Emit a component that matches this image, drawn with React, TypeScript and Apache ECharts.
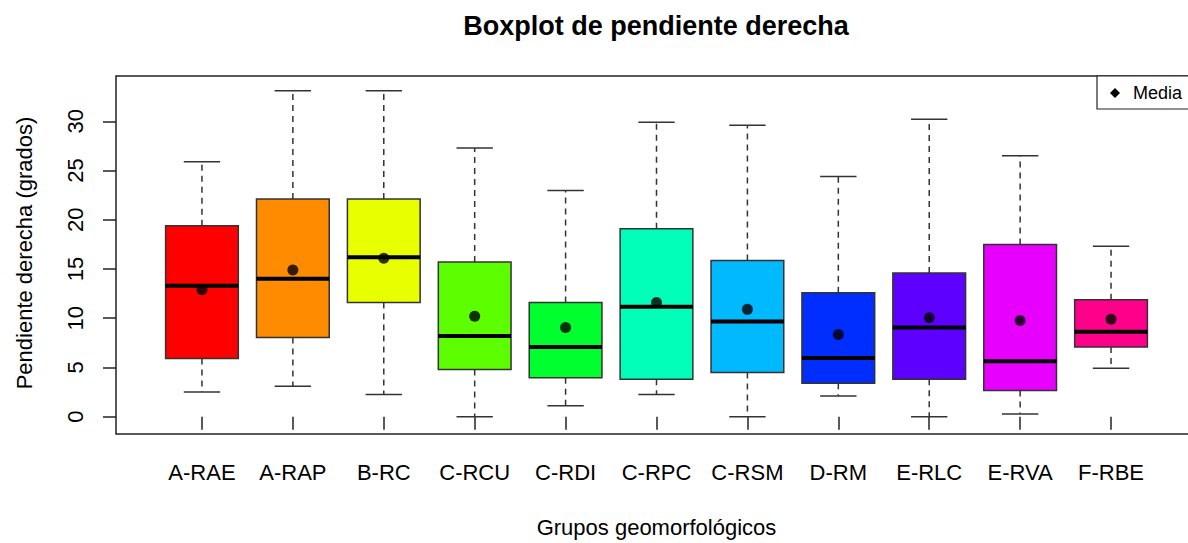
import React, { useEffect, useRef } from "react";
import * as echarts from "echarts";

const categories = ["A-RAE", "A-RAP", "B-RC", "C-RCU", "C-RDI", "C-RPC", "C-RSM", "D-RM", "E-RLC", "E-RVA", "F-RBE"];
const lowerWhisker = [2.5, 3.1, 2.25, 0.0, 1.1, 2.25, 0.0, 2.1, 0.0, 0.27, 4.93];
const q1 = [5.9, 8.05, 11.6, 4.8, 3.96, 3.8, 4.5, 3.4, 3.8, 2.65, 7.07];
const medians = [13.3, 14.0, 16.2, 8.2, 7.07, 11.17, 9.66, 5.97, 9.05, 5.63, 8.62];
const q3 = [19.4, 22.1, 22.1, 15.7, 11.6, 19.1, 15.86, 12.6, 14.6, 17.5, 11.87];
const upperWhisker = [25.9, 33.1, 33.1, 27.3, 22.97, 29.9, 29.6, 24.4, 30.2, 26.5, 17.3];
const means = [12.9, 14.9, 16.1, 10.2, 9.05, 11.6, 10.9, 8.35, 10.06, 9.76, 9.9];
const colors = ["#FF0000", "#FF8B00", "#E8FF00", "#5DFF00", "#00FF2E", "#00FFB9", "#00B9FF", "#002EFF", "#5D00FF", "#E800FF", "#FF008B"];
const yTicks = [0, 5, 10, 15, 20, 25, 30];

const FONT = "'Liberation Sans', Arial, sans-serif";

export default function App() {
  const ref = useRef<HTMLDivElement>(null);
  useEffect(() => {
    if (!ref.current) return;
    const chart = echarts.init(ref.current, null, { renderer: "svg" });
    const boxData = categories.map((_, i) => [i, lowerWhisker[i], q1[i], medians[i], q3[i], upperWhisker[i]]);
    const option: any = {
      animation: false,
      backgroundColor: "#ffffff",
      textStyle: { fontFamily: FONT },
      title: {
        text: "Boxplot de pendiente derecha",
        left: 651,
        textAlign: "center",
        top: 7,
        textStyle: { fontFamily: FONT, fontWeight: "bold", fontSize: 27, color: "#000" },
      },
      grid: { left: 156.5, right: 31.5, top: 76, bottom: 109, containLabel: false },
      xAxis: {
        type: "category",
        data: categories,
        boundaryGap: true,
        axisLine: { show: false },
        axisTick: { show: true, alignWithLabel: true, length: 13, lineStyle: { color: "#222", width: 1.5 } },
        axisLabel: { fontFamily: FONT, fontSize: 22, color: "#000", margin: 31, interval: 0 },
        name: "Grupos geomorfológicos",
        nameLocation: "middle",
        nameGap: 86,
        nameTextStyle: { fontFamily: FONT, fontSize: 22, color: "#000" },
        splitLine: { show: false },
      },
      yAxis: {
        type: "value",
        min: -1.35,
        max: 34.6,
        offset: 40.5,
        axisLine: { show: false },
        axisTick: { show: true, length: 13, customValues: yTicks, lineStyle: { color: "#222", width: 1.5 } },
        axisLabel: { fontFamily: FONT, fontSize: 22, color: "#000", rotate: 90, margin: 30, customValues: yTicks },
        splitLine: { show: false },
        name: "Pendiente derecha (grados)",
        nameLocation: "middle",
        nameRotate: 90,
        nameGap: 81,
        nameTextStyle: { fontFamily: FONT, fontSize: 22, color: "#000" },
      },
      graphic: [
        {
          type: "rect",
          shape: { x: 116, y: 76, width: 1081, height: 358 },
          style: { fill: "none", stroke: "#222", lineWidth: 1.5 },
          z: 10,
        },
        {
          type: "rect",
          shape: { x: 1097, y: 76, width: 100, height: 33 },
          style: { fill: "#fff", stroke: "#222", lineWidth: 1.2 },
          z: 11,
        },
        {
          type: "polygon",
          shape: { points: [[1115, 88], [1120, 93], [1115, 98], [1110, 93]] },
          style: { fill: "#000" },
          z: 12,
        },
        {
          type: "text",
          x: 1133,
          y: 93,
          style: { text: "Media", fontFamily: FONT, fontSize: 18, fill: "#000", textVerticalAlign: "middle", verticalAlign: "middle" },
          z: 12,
        },
      ],
      series: [
        {
          type: "custom",
          data: boxData,
          encode: { x: 0, y: [1, 2, 3, 4, 5] },
          renderItem: (params: any, api: any) => {
            const idx = api.value(0);
            const band = api.size([1, 0])[0];
            const w = band * 0.8;
            const pMin = api.coord([idx, api.value(1)]);
            const pQ1 = api.coord([idx, api.value(2)]);
            const pMed = api.coord([idx, api.value(3)]);
            const pQ3 = api.coord([idx, api.value(4)]);
            const pMax = api.coord([idx, api.value(5)]);
            const cx = pMed[0];
            const ws = { stroke: "#333", lineWidth: 1.5 };
            return {
              type: "group",
              children: [
                { type: "line", shape: { x1: cx, y1: pQ3[1], x2: cx, y2: pMax[1] }, style: { ...ws, lineDash: [6, 5] } },
                { type: "line", shape: { x1: cx, y1: pQ1[1], x2: cx, y2: pMin[1] }, style: { ...ws, lineDash: [6, 5] } },
                { type: "line", shape: { x1: cx - w / 4, y1: pMax[1], x2: cx + w / 4, y2: pMax[1] }, style: ws },
                { type: "line", shape: { x1: cx - w / 4, y1: pMin[1], x2: cx + w / 4, y2: pMin[1] }, style: ws },
                {
                  type: "rect",
                  shape: { x: cx - w / 2, y: pQ3[1], width: w, height: pQ1[1] - pQ3[1] },
                  style: { fill: colors[idx], stroke: "#333", lineWidth: 1.5 },
                },
                { type: "line", shape: { x1: cx - w / 2, y1: pMed[1], x2: cx + w / 2, y2: pMed[1] }, style: { stroke: "#000", lineWidth: 4 } },
              ],
            };
          },
          z: 2,
        },
        {
          type: "scatter",
          name: "Media",
          data: categories.map((_, i) => [i, means[i]]),
          symbol: "circle",
          symbolSize: 11,
          itemStyle: { color: "#000" },
          z: 5,
        },
      ],
    };
    chart.setOption(option);
    return () => chart.dispose();
  }, []);
  return <div ref={ref} style={{ position: "fixed", left: 0, top: 0, width: 1188, height: 543 }} />;
}
